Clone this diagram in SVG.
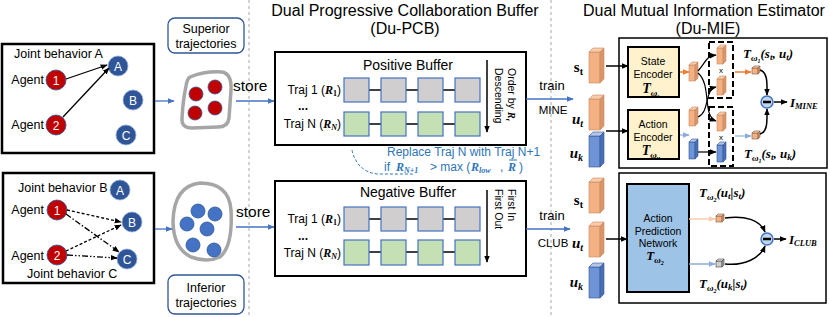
<svg xmlns="http://www.w3.org/2000/svg" width="830" height="317" viewBox="0 0 830 317">
<style>
text{font-family:"Liberation Sans",Arial,sans-serif;fill:#000}
.t12{font-size:12.5px}
.title{font-size:16px}
.buf{font-size:14px}
.math{font-family:"Liberation Serif","Times New Roman",serif;font-weight:bold;font-style:italic}
.mup{font-family:"Liberation Serif","Times New Roman",serif;font-weight:bold}
.blue{fill:#2E75B6}
.wt{fill:#fff;font-size:12px}
.box{fill:#fff;stroke:#000;stroke-width:2.5}
.tbox{fill:#fff;stroke:#2F5597;stroke-width:1.3}
.red{fill:#C00000;stroke:#2F5597;stroke-width:0.8}
.bl{fill:#2F5597;stroke:#8FAADC;stroke-width:0.8}
.dot{fill:#4472C4;stroke:#2F5597;stroke-width:0.8}
.rdot{fill:#C00000;stroke:#2F5597;stroke-width:0.8}
.blob{fill:#fff;stroke:#A6A6A6;stroke-width:3.5}
.vdash{stroke:#A6A6A6;stroke-width:1;stroke-dasharray:3,3}
.sqg{fill:#D0CECE;stroke:#4472C4;stroke-width:1.2}
.sqn{fill:#C5E0B4;stroke:#4472C4;stroke-width:1.2}
.ln{stroke:#000;stroke-width:1.5;fill:none}
.barr{stroke:#4472C4;stroke-width:1.3;fill:none}
.enc{fill:#FFF2CC;stroke:#000;stroke-width:2}
.apn{fill:#9DC3E6;stroke:#000;stroke-width:2}
.dbox{fill:none;stroke:#000;stroke-width:2;stroke-dasharray:6,3}
.mbox{fill:#fff;stroke:#000;stroke-width:1.5}
.minus{fill:#BDD7EE;stroke:#4472C4;stroke-width:1.5}
</style>
<defs>
<marker id="ak" viewBox="0 0 10 10" refX="9" refY="5" markerWidth="7" markerHeight="7" markerUnits="userSpaceOnUse" orient="auto"><path d="M0,1 L10,5 L0,9 z" fill="#000"/></marker>
<marker id="ab" viewBox="0 0 10 10" refX="9" refY="5" markerWidth="7" markerHeight="7" markerUnits="userSpaceOnUse" orient="auto"><path d="M0,1 L10,5 L0,9 z" fill="#4472C4"/></marker>
<marker id="ao" viewBox="0 0 10 10" refX="9" refY="5" markerWidth="7" markerHeight="7" markerUnits="userSpaceOnUse" orient="auto"><path d="M0,1 L10,5 L0,9 z" fill="#ED7D31"/></marker>
<marker id="alo" viewBox="0 0 10 10" refX="9" refY="5" markerWidth="7" markerHeight="7" markerUnits="userSpaceOnUse" orient="auto"><path d="M0,1 L10,5 L0,9 z" fill="#F8CBAD"/></marker>
<marker id="alb" viewBox="0 0 10 10" refX="9" refY="5" markerWidth="7" markerHeight="7" markerUnits="userSpaceOnUse" orient="auto"><path d="M0,1 L10,5 L0,9 z" fill="#8FAADC"/></marker>
<g id="bigO"><rect x="0" y="4" width="11" height="31" fill="#F4B183" stroke="#C98A5E" stroke-width="0.6"/><path d="M0,4 L4,0 L15,0 L11,4 Z" fill="#F8CBAD" stroke="#C98A5E" stroke-width="0.6"/><path d="M11,4 L15,0 L15,31 L11,35 Z" fill="#D9966A" stroke="#C98A5E" stroke-width="0.6"/></g>
<g id="bigB"><rect x="0" y="4" width="11" height="31" fill="#6F94D6" stroke="#2F5597" stroke-width="0.6"/><path d="M0,4 L4,0 L15,0 L11,4 Z" fill="#B4C7E7" stroke="#2F5597" stroke-width="0.6"/><path d="M11,4 L15,0 L15,31 L11,35 Z" fill="#4A6FB5" stroke="#2F5597" stroke-width="0.6"/></g>
<g id="smO"><rect x="0" y="3" width="6" height="16" fill="#F4B183" stroke="#C98A5E" stroke-width="0.6"/><path d="M0,3 L3,0 L9,0 L6,3 Z" fill="#F8CBAD" stroke="#C98A5E" stroke-width="0.6"/><path d="M6,3 L9,0 L9,16 L6,19 Z" fill="#D9966A" stroke="#C98A5E" stroke-width="0.6"/></g>
<g id="smB"><rect x="0" y="3" width="6" height="17" fill="#6F94D6" stroke="#2F5597" stroke-width="0.6"/><path d="M0,3 L3,0 L9,0 L6,3 Z" fill="#B4C7E7" stroke="#2F5597" stroke-width="0.6"/><path d="M6,3 L9,0 L9,17 L6,20 Z" fill="#4A6FB5" stroke="#2F5597" stroke-width="0.6"/></g>
<g id="cuO"><rect x="0" y="2" width="6" height="6" fill="#F4B183" stroke="#7F5A3F" stroke-width="0.6"/><path d="M0,2 L2,0 L8,0 L6,2 Z" fill="#F8CBAD" stroke="#7F5A3F" stroke-width="0.6"/><path d="M6,2 L8,0 L8,6 L6,8 Z" fill="#D9966A" stroke="#7F5A3F" stroke-width="0.6"/></g>
<g id="cuG"><rect x="0" y="2" width="6" height="6" fill="#D0CECE" stroke="#404040" stroke-width="0.6"/><path d="M0,2 L2,0 L8,0 L6,2 Z" fill="#E7E6E6" stroke="#404040" stroke-width="0.6"/><path d="M6,2 L8,0 L8,6 L6,8 Z" fill="#A6A6A6" stroke="#404040" stroke-width="0.6"/></g>
</defs>
<rect width="830" height="317" fill="#fff"/>

<line class="vdash" x1="249" y1="0" x2="249" y2="317"/>
<line class="vdash" x1="551" y1="0" x2="551" y2="317"/>

<g id="jointA">
<rect class="box" x="2" y="44" width="152" height="109"/>
<text class="t12" x="14" y="58">Joint behavior A</text>
<text class="t12" x="44" y="84" text-anchor="end">Agent</text>
<text class="t12" x="44" y="129" text-anchor="end">Agent</text>
<circle class="red" cx="56" cy="80" r="10"/><text class="wt" x="56" y="84.5" text-anchor="middle">1</text>
<circle class="red" cx="56" cy="125" r="10"/><text class="wt" x="56" y="129.5" text-anchor="middle">2</text>
<circle class="bl" cx="118" cy="66" r="10"/><text class="wt" x="118" y="70.5" text-anchor="middle">A</text>
<circle class="bl" cx="133" cy="100" r="10"/><text class="wt" x="133" y="104.5" text-anchor="middle">B</text>
<circle class="bl" cx="126" cy="135" r="10"/><text class="wt" x="126" y="139.5" text-anchor="middle">C</text>
<line class="ln" x1="66" y1="79" x2="107" y2="65" marker-end="url(#ak)" style="stroke-width:1.3"/>
<line class="ln" x1="63" y1="117" x2="109" y2="68" marker-end="url(#ak)" style="stroke-width:1.3"/>
</g>

<g id="jointBC">
<rect class="box" x="3" y="173" width="151" height="110"/>
<text class="t12" x="18" y="192">Joint behavior B</text>
<text class="t12" x="27" y="278">Joint behavior C</text>
<text class="t12" x="44" y="214" text-anchor="end">Agent</text>
<text class="t12" x="44" y="260" text-anchor="end">Agent</text>
<circle class="red" cx="57" cy="210" r="10"/><text class="wt" x="57" y="214.5" text-anchor="middle">1</text>
<circle class="red" cx="57" cy="255" r="10"/><text class="wt" x="57" y="259.5" text-anchor="middle">2</text>
<circle class="bl" cx="120" cy="190" r="10"/><text class="wt" x="120" y="194.5" text-anchor="middle">A</text>
<circle class="bl" cx="132" cy="222" r="10"/><text class="wt" x="132" y="226.5" text-anchor="middle">B</text>
<circle class="bl" cx="127" cy="259" r="10"/><text class="wt" x="127" y="263.5" text-anchor="middle">C</text>
<line class="ln" x1="67" y1="210" x2="121" y2="222" marker-end="url(#ak)" style="stroke-width:1.3;stroke-dasharray:3,2"/>
<line class="ln" x1="66" y1="214" x2="119" y2="252" marker-end="url(#ak)" style="stroke-width:1.3;stroke-dasharray:6,2,1.5,2"/>
<line class="ln" x1="66" y1="251" x2="121" y2="225" marker-end="url(#ak)" style="stroke-width:1.3;stroke-dasharray:3,2"/>
<line class="ln" x1="67" y1="255" x2="117" y2="258" marker-end="url(#ak)" style="stroke-width:1.3;stroke-dasharray:6,2,1.5,2,1.5,2"/>
</g>

<g id="superior">
<rect class="tbox" x="168" y="18" width="76" height="35" rx="7"/>
<text class="t12" x="206" y="33" text-anchor="middle">Superior</text>
<text class="t12" x="206" y="48" text-anchor="middle">trajectories</text>
</g>
<g id="inferior">
<rect class="tbox" x="168" y="275" width="76" height="39" rx="7"/>
<text class="t12" x="206" y="292" text-anchor="middle">Inferior</text>
<text class="t12" x="206" y="307" text-anchor="middle">trajectories</text>
</g>

<g id="supBlob">
<path class="blob" d="M190 77 Q205 71 222 72 Q232 74 231 90 L229 118 Q228 127 218 127 L192 128 Q181 128 182 118 Q183 100 186 86 Q187 79 190 77 Z"/>
<circle class="rdot" cx="196" cy="94" r="7"/>
<circle class="rdot" cx="215" cy="87" r="7"/>
<circle class="rdot" cx="195" cy="113" r="7"/>
<circle class="rdot" cx="215" cy="108" r="7"/>
</g>
<g id="infBlob">
<path class="blob" d="M200 183 Q229 183 231 210 Q233 246 220 257 Q207 263 191 257 Q173 248 173 221 Q174 186 200 183 Z"/>
<circle class="dot" cx="198" cy="211" r="7"/>
<circle class="dot" cx="215" cy="214" r="7"/>
<circle class="dot" cx="187" cy="224" r="7"/>
<circle class="dot" cx="207" cy="229" r="7"/>
<circle class="dot" cx="193" cy="245" r="7"/>
<circle class="dot" cx="214" cy="250" r="7"/>
</g>

<text class="title" x="405" y="16" text-anchor="middle">Dual Progressive Collaboration Buffer</text>
<text class="title" x="405" y="34" text-anchor="middle">(Du-PCB)</text>
<text class="title" x="704" y="16" text-anchor="middle">Dual Mutual Information Estimator</text>
<text class="title" x="708" y="34" text-anchor="middle">(Du-MIE)</text>

<g id="posBuffer">
<rect class="box" x="275" y="52" width="251" height="93" style="stroke-width:2"/>
<text class="buf" x="408" y="70" text-anchor="middle">Positive Buffer</text>
<line class="ln" x1="356" y1="90" x2="467" y2="90"/>
<line class="ln" x1="356" y1="124" x2="467" y2="124"/>
<rect class="sqg" x="344" y="78" width="25" height="24"/><rect class="sqg" x="381" y="78" width="25" height="24"/><rect class="sqg" x="418" y="78" width="25" height="24"/><rect class="sqg" x="455" y="78" width="25" height="24"/>
<rect class="sqn" x="344" y="112" width="25" height="24"/><rect class="sqn" x="381" y="112" width="25" height="24"/><rect class="sqn" x="418" y="112" width="25" height="24"/><rect class="sqn" x="455" y="112" width="25" height="24"/>
<text style="font-size:12px" x="341" y="94" text-anchor="end">Traj 1 (<tspan class="math">R</tspan><tspan class="mup" style="font-size:8px" dy="2">1</tspan><tspan dy="-2">)</tspan></text>
<text style="font-size:12px;font-weight:bold" x="303" y="110" text-anchor="middle">...</text>
<text style="font-size:12px" x="341" y="128" text-anchor="end">Traj N (<tspan class="math">R</tspan><tspan class="math" style="font-size:8px" dy="2">N</tspan><tspan dy="-2">)</tspan></text>
<line class="ln" x1="487" y1="60" x2="487" y2="132" marker-end="url(#ak)"/>
<text style="font-size:10.5px" transform="translate(508,68) rotate(90)">Order by <tspan class="math">R</tspan><tspan class="math" style="font-size:7px" dy="2">t</tspan></text>
<text style="font-size:10.5px" transform="translate(495,68) rotate(90)">Descending</text>
</g>

<g id="negBuffer">
<rect class="box" x="275" y="181" width="251" height="95" style="stroke-width:2"/>
<text class="buf" x="408" y="197" text-anchor="middle">Negative Buffer</text>
<line class="ln" x1="356" y1="219" x2="467" y2="219"/>
<line class="ln" x1="356" y1="252" x2="467" y2="252"/>
<rect class="sqg" x="344" y="207" width="25" height="24"/><rect class="sqg" x="381" y="207" width="25" height="24"/><rect class="sqg" x="418" y="207" width="25" height="24"/><rect class="sqg" x="455" y="207" width="25" height="24"/>
<rect class="sqn" x="344" y="240" width="25" height="25"/><rect class="sqn" x="381" y="240" width="25" height="25"/><rect class="sqn" x="418" y="240" width="25" height="25"/><rect class="sqn" x="455" y="240" width="25" height="25"/>
<text style="font-size:12px" x="341" y="223" text-anchor="end">Traj 1 (<tspan class="math">R</tspan><tspan class="mup" style="font-size:8px" dy="2">1</tspan><tspan dy="-2">)</tspan></text>
<text style="font-size:12px;font-weight:bold" x="303" y="240" text-anchor="middle">...</text>
<text style="font-size:12px" x="341" y="257" text-anchor="end">Traj N (<tspan class="math">R</tspan><tspan class="math" style="font-size:8px" dy="2">N</tspan><tspan dy="-2">)</tspan></text>
<line class="ln" x1="487" y1="190" x2="487" y2="262" marker-end="url(#ak)"/>
<text style="font-size:10.5px" transform="translate(508,189) rotate(90)">First In</text>
<text style="font-size:10.5px" transform="translate(495,189) rotate(90)">First Out</text>
</g>

<g id="replace">
<text class="blue" style="font-size:12px" x="387" y="156">Replace Traj N with Traj N+1</text>
<text class="blue" style="font-size:12px" x="384" y="171">if</text>
<text class="math blue" style="font-size:12px" x="396" y="171">R<tspan style="font-size:8px" dy="2">N+1</tspan></text>
<text class="blue" style="font-size:12px" x="430" y="171">&gt; max (</text>
<text class="math blue" style="font-size:12px" x="471" y="171">R<tspan style="font-size:8px" dy="2">low</tspan></text>
<text class="blue" style="font-size:12px" x="500" y="171">,</text>
<text class="math blue" style="font-size:12px" x="508" y="171">R</text>
<line x1="509" y1="160" x2="517" y2="160" stroke="#2E75B6" stroke-width="1"/>
<text class="blue" style="font-size:12px" x="519" y="171">)</text>
</g>

<g id="connectors">
<line class="barr" x1="155" y1="101" x2="174" y2="101" marker-end="url(#ab)"/>
<line class="barr" x1="236" y1="101" x2="274" y2="101" marker-end="url(#ab)"/>
<line class="barr" x1="155" y1="229" x2="172" y2="229" marker-end="url(#ab)"/>
<line class="barr" x1="236" y1="227" x2="274" y2="227" marker-end="url(#ab)"/>
<line class="barr" x1="526" y1="99" x2="573" y2="99" marker-end="url(#ab)"/>
<line class="barr" x1="526" y1="229" x2="570" y2="229" marker-end="url(#ab)"/>
<path d="M352 150 Q357 172 378 174 L413 174" fill="none" stroke="#2E75B6" stroke-width="1" stroke-dasharray="3,2"/>
</g>
<text x="233" y="91" style="font-size:15.5px">store</text>
<text x="236" y="217" style="font-size:15.5px">store</text>
<text x="552" y="90" text-anchor="middle" style="font-size:13px">train</text>
<text x="553" y="114" text-anchor="middle" style="font-size:11.5px">MINE</text>
<text x="552" y="220" text-anchor="middle" style="font-size:13px">train</text>
<text x="553" y="247" text-anchor="middle" style="font-size:11.5px">CLUB</text>

<g id="mine">
<rect class="mbox" x="619" y="38" width="208" height="130"/>
<use href="#bigO" x="589" y="48"/>
<use href="#bigO" x="589" y="95"/>
<use href="#bigB" x="589" y="132"/>
<text class="mup" style="font-size:15px" x="583" y="72" text-anchor="end">s<tspan style="font-size:10px" dy="3">t</tspan></text>
<text class="math" style="font-size:15px" x="583" y="124" text-anchor="end">u<tspan class="mup" style="font-size:10px" dy="3">t</tspan></text>
<text class="math" style="font-size:15px" x="583" y="158" text-anchor="end">u<tspan style="font-size:10px" dy="3">k</tspan></text>
<line class="ln" x1="606" y1="66" x2="628" y2="66" marker-end="url(#ak)"/>
<line class="ln" x1="606" y1="131" x2="628" y2="131" marker-end="url(#ak)"/>
<rect class="enc" x="628" y="47" width="51" height="50"/>
<text style="font-size:10.5px" x="653" y="65" text-anchor="middle">State</text>
<text style="font-size:10.5px" x="653" y="78" text-anchor="middle">Encoder</text>
<text class="math" style="font-size:14px" x="651" y="93" text-anchor="middle">T<tspan style="font-size:9px" dy="3">ω</tspan><tspan style="font-size:6px" dy="2">s</tspan></text>
<rect class="enc" x="628" y="110" width="51" height="49"/>
<text style="font-size:10.5px" x="653" y="128" text-anchor="middle">Action</text>
<text style="font-size:10.5px" x="653" y="141" text-anchor="middle">Encoder</text>
<text class="math" style="font-size:14px" x="651" y="155" text-anchor="middle">T<tspan style="font-size:9px" dy="3">ω</tspan><tspan style="font-size:6px" dy="2">u</tspan></text>
<line x1="680" y1="72" x2="689" y2="72" stroke="#ED7D31" stroke-width="1.5" marker-end="url(#ao)"/>
<line x1="680" y1="135" x2="689" y2="135" stroke="#9DC3E6" stroke-width="1.5" marker-end="url(#alb)"/>
<use href="#smO" x="689" y="62"/>
<use href="#smO" x="689" y="107"/>
<use href="#smB" x="689" y="139"/>
<rect class="dbox" x="709" y="42" width="24" height="56"/>
<rect class="dbox" x="709" y="107" width="24" height="59"/>
<use href="#smO" x="717" y="45"/>
<use href="#smO" x="717" y="76"/>
<use href="#smO" x="717" y="112"/>
<use href="#smB" x="717" y="142"/>
<text style="font-size:8px" x="721" y="73" text-anchor="middle">x</text>
<text style="font-size:8px" x="721" y="140" text-anchor="middle">x</text>
<path class="ln" style="stroke-width:1.2" d="M698 71 C706 62 706 56 716 55" marker-end="url(#ak)"/>
<path class="ln" style="stroke-width:1.2" d="M698 73 C712 85 702 116 716 121" marker-end="url(#ak)"/>
<path class="ln" style="stroke-width:1.2" d="M698 117 C710 112 704 90 716 87" marker-end="url(#ak)"/>
<line class="ln" style="stroke-width:1.2" x1="698" y1="152" x2="716" y2="152" marker-end="url(#ak)"/>
<line x1="735" y1="72" x2="751" y2="72" stroke="#ED7D31" stroke-width="1.5" marker-end="url(#ao)"/>
<line x1="735" y1="136" x2="751" y2="136" stroke="#9DC3E6" stroke-width="1.5" marker-end="url(#alb)"/>
<use href="#cuO" x="752" y="66"/>
<use href="#cuO" x="752" y="131"/>
<text class="math" style="font-size:13px" x="743" y="58">T<tspan style="font-size:9px" dy="3">ω</tspan><tspan style="font-size:6px" dy="2">1</tspan><tspan dy="-5">(</tspan><tspan>s</tspan><tspan class="mup" style="font-size:9px" dy="2">t</tspan><tspan dy="-2">, </tspan><tspan>u</tspan><tspan class="mup" style="font-size:9px" dy="2">t</tspan><tspan dy="-2">)</tspan></text>
<text class="math" style="font-size:13px" x="744" y="158">T<tspan style="font-size:9px" dy="3">ω</tspan><tspan style="font-size:6px" dy="2">1</tspan><tspan dy="-5">(</tspan><tspan>s</tspan><tspan class="mup" style="font-size:9px" dy="2">t</tspan><tspan dy="-2">, </tspan><tspan>u</tspan><tspan style="font-size:9px" dy="2">k</tspan><tspan dy="-2">)</tspan></text>
<path class="ln" style="stroke-width:1.5" d="M760 70 C768 72 767 84 767 95" marker-end="url(#ak)"/>
<path class="ln" style="stroke-width:1.5" d="M760 134 C768 132 767 120 767 109" marker-end="url(#ak)"/>
<circle class="minus" cx="767" cy="102" r="6"/>
<line x1="763" y1="102" x2="771" y2="102" stroke="#000" stroke-width="2.5"/>
<line class="ln" x1="774" y1="102" x2="787" y2="102" marker-end="url(#ak)"/>
<text class="math" style="font-size:13px" x="790" y="107">I<tspan style="font-size:8.5px" dy="2">MINE</tspan></text>
</g>

<g id="club">
<rect class="mbox" x="619" y="173" width="207" height="130"/>
<use href="#bigO" x="589" y="178"/>
<use href="#bigO" x="589" y="222"/>
<use href="#bigB" x="589" y="263"/>
<text class="mup" style="font-size:15px" x="583" y="205" text-anchor="end">s<tspan style="font-size:10px" dy="3">t</tspan></text>
<text class="math" style="font-size:15px" x="583" y="248" text-anchor="end">u<tspan class="mup" style="font-size:10px" dy="3">t</tspan></text>
<text class="math" style="font-size:15px" x="583" y="287" text-anchor="end">u<tspan style="font-size:10px" dy="3">k</tspan></text>
<line class="ln" x1="606" y1="239" x2="627" y2="239" marker-end="url(#ak)"/>
<rect class="apn" x="627" y="184" width="62" height="108"/>
<text style="font-size:10.5px" x="658" y="222" text-anchor="middle">Action</text>
<text style="font-size:10.5px" x="658" y="235" text-anchor="middle">Prediction</text>
<text style="font-size:10.5px" x="658" y="247" text-anchor="middle">Network</text>
<text class="math" style="font-size:13px" x="655" y="260" text-anchor="middle">T<tspan style="font-size:9px" dy="3">ω</tspan><tspan style="font-size:6px" dy="2">2</tspan></text>
<line x1="689" y1="219" x2="715" y2="219" stroke="#F8CBAD" stroke-width="1.5" marker-end="url(#alo)"/>
<line x1="689" y1="264" x2="715" y2="264" stroke="#8FAADC" stroke-width="1.5" marker-end="url(#alb)"/>
<use href="#cuO" x="716" y="214"/>
<use href="#cuG" x="716" y="259"/>
<text class="math" style="font-size:13px" x="699" y="197">T<tspan style="font-size:9px" dy="3">ω</tspan><tspan style="font-size:6px" dy="2">2</tspan><tspan dy="-5">(</tspan><tspan>u</tspan><tspan class="mup" style="font-size:9px" dy="2">t</tspan><tspan dy="-2">|</tspan><tspan>s</tspan><tspan class="mup" style="font-size:9px" dy="2">t</tspan><tspan dy="-2">)</tspan></text>
<text class="math" style="font-size:13px" x="699" y="288">T<tspan style="font-size:9px" dy="3">ω</tspan><tspan style="font-size:6px" dy="2">2</tspan><tspan dy="-5">(</tspan><tspan>u</tspan><tspan style="font-size:9px" dy="2">k</tspan><tspan dy="-2">|</tspan><tspan>s</tspan><tspan class="mup" style="font-size:9px" dy="2">t</tspan><tspan dy="-2">)</tspan></text>
<path class="ln" style="stroke-width:1.5" d="M725 218 C745 215 760 220 765 232" marker-end="url(#ak)"/>
<path class="ln" style="stroke-width:1.5" d="M725 264 C745 266 760 258 765 246" marker-end="url(#ak)"/>
<circle class="minus" cx="767" cy="239" r="6"/>
<line x1="763" y1="239" x2="771" y2="239" stroke="#000" stroke-width="2.5"/>
<line class="ln" x1="774" y1="239" x2="786" y2="239" marker-end="url(#ak)"/>
<text class="math" style="font-size:13px" x="789" y="244">I<tspan style="font-size:8.5px" dy="2">CLUB</tspan></text>
</g>
</svg>
